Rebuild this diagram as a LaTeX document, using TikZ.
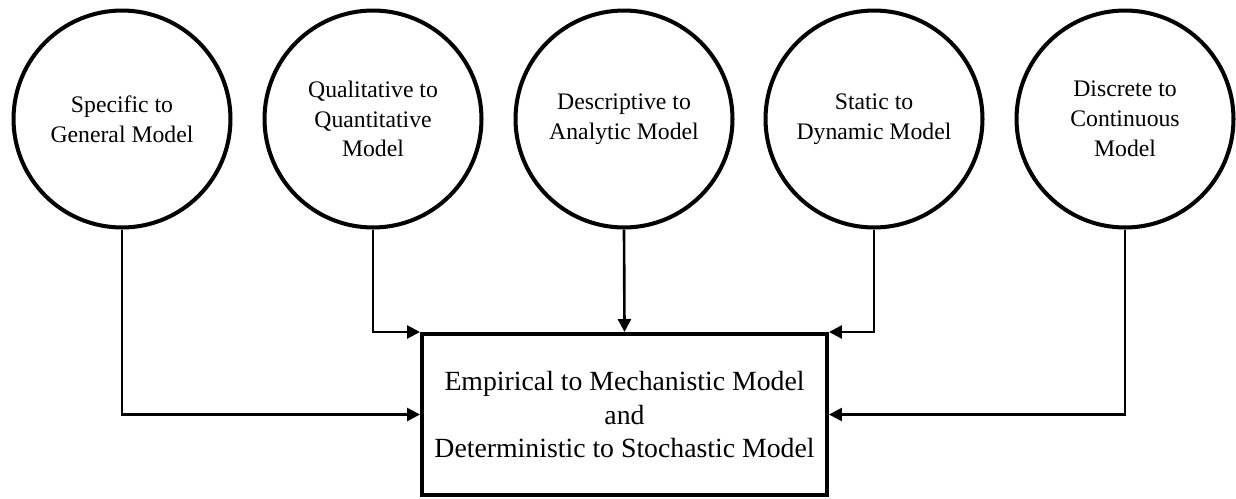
\documentclass[tikz,border=0pt]{standalone}
\usepackage{fontspec}
\setmainfont{Liberation Serif}
\usepackage{tikz}
\usetikzlibrary{positioning, arrows.meta}

\begin{document}
\begin{tikzpicture}[x=0.02cm, y=-0.02cm,
    modelcircle/.style={draw, circle, line width=2.3pt, minimum size=4.34cm, inner sep=0pt,
      align=center, font=\fontsize{13.5}{17}\selectfont},
    targetbox/.style={draw, rectangle, line width=2.3pt, minimum width=8.1cm, minimum height=3.22cm,
      align=center, font=\fontsize{15.8}{19}\selectfont},
    link/.style={line width=1.5pt, -{Triangle[length=0.26cm, width=0.26cm]}}]
    \useasboundingbox (0,0) rectangle (1236,498);
    \node[modelcircle] (specific) at (122,119) {Specific to\\General Model};
    \node[modelcircle] (qualitative) at (373,119) {Qualitative to\\Quantitative\\Model};
    \node[modelcircle] (descriptive) at (624,119) {Descriptive to\\Analytic Model};
    \node[modelcircle] (static) at (874,119) {Static to\\Dynamic Model};
    \node[modelcircle] (discrete) at (1125,119) {Discrete to\\Continuous\\Model};
    \node[targetbox] (empirical) at (624.5,414.5) {\raisebox{-8pt}{\parbox{7.8cm}{\centering
      Empirical to Mechanistic Model\\and\\Deterministic to Stochastic Model}}};
    \draw[link] (specific.south) |- (empirical.west);
    \draw[link] (qualitative.south) |- (empirical.north west);
    \draw[link] (descriptive.south) -- (empirical.north);
    \draw[link] (static.south) |- (empirical.north east);
    \draw[link] (discrete.south) |- (empirical.east);
\end{tikzpicture}
\end{document}
